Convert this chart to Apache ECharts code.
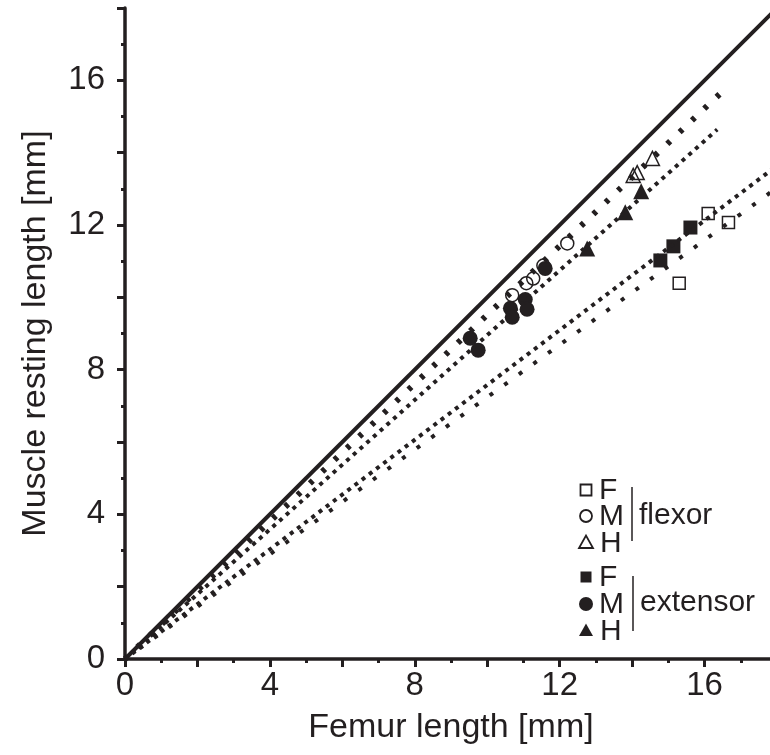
<!DOCTYPE html>
<html>
<head>
<meta charset="utf-8">
<script src="https://cdn.jsdelivr.net/npm/echarts/dist/echarts.min.js"></script>
<style>
  html, body { margin: 0; padding: 0; background: #fff; }
  #chart { width: 770px; height: 755px; }
</style>
</head>
<body>
<div id="chart"></div>
<script>
// measured points [femur length, muscle resting length] in mm
var flexorF = [[15.30, 10.39], [16.10, 12.32], [16.66, 12.07]]
var flexorM = [[10.69, 10.06], [11.08, 10.39], [11.27, 10.52], [11.55, 10.88], [12.21, 11.49]]
var flexorH = [[14.03, 13.37], [14.14, 13.45], [14.56, 13.84]]
var extensorF = [[14.78, 11.02], [15.14, 11.41], [15.61, 11.93]]
var extensorM = [[9.53, 8.87], [9.75, 8.54], [10.64, 9.70], [10.69, 9.45], [11.05, 9.94], [11.10, 9.67], [11.60, 10.80]]
var extensorH = [[12.76, 11.35], [13.81, 12.35], [14.25, 12.93]]

// fit lines through the origin
var identityLine = [[0, 0], [18, 18]]
var flexorMHFit = [[0, 0], [16.49, 15.69]]
var extensorMHFit = [[0, 0], [16.35, 14.64]]
var extensorFFit = [[0, 0], [18, 13.64]]
var flexorFFit = [[0, 0], [18, 13.03]]

var tickLabels = [0, 4, 8, 12, 16]

var ink = '#231f20'
var font = "'Liberation Sans', Arial, Helvetica, sans-serif"

var axisCommon = function (name, nameGap, labelMargin) {
    return {
        type: 'value',
        min: 0,
        max: 18,
        interval: 2,
        name: name,
        nameLocation: 'middle',
        nameGap: nameGap,
        nameTextStyle: { fontSize: 34, color: ink, fontFamily: font },
        axisLine: { show: true, onZero: false, lineStyle: { color: ink, width: 3.5 } },
        axisTick: { show: true, inside: false, length: 8, lineStyle: { color: ink, width: 3 } },
        minorTick: { show: true, splitNumber: 2, length: 4, lineStyle: { color: ink, width: 3 } },
        splitLine: { show: false },
        minorSplitLine: { show: false },
        axisLabel: {
            margin: labelMargin,
            fontSize: 33,
            color: ink,
            fontFamily: font,
            formatter: function (v) { return tickLabels.indexOf(v) >= 0 ? String(v) : '' }
        }
    }
}

var scatter = function (data, symbol, size, filled) {
    return {
        type: 'scatter',
        data: data,
        symbol: symbol,
        symbolSize: size,
        z: 3,
        itemStyle: filled
            ? { color: ink, borderWidth: 0, opacity: 1 }
            : { color: 'rgba(0,0,0,0)', borderColor: ink, borderWidth: 1.5, opacity: 1 }
    }
}

var fit = function (data, width, dash) {
    return {
        type: 'line',
        data: data,
        symbol: 'none',
        showSymbol: false,
        silent: true,
        z: 4,
        lineStyle: { color: ink, width: width, type: dash, cap: 'butt', opacity: 1 }
    }
}

// hand-made legend, like the one in the figure
var legendItem = function (shape, cx, cy, filled) {
    var style = filled ? { fill: ink } : { fill: 'none', stroke: ink, lineWidth: 1.8 }
    if (shape === 'rect') return { type: 'rect', shape: { x: cx - 5.5, y: cy - 5.5, width: 11, height: 11 }, style: style }
    if (shape === 'circle') return { type: 'circle', shape: { cx: cx, cy: cy, r: filled ? 7 : 6 }, style: style }
    return { type: 'polygon', shape: { points: [[cx - 7, cy + 6], [cx + 7, cy + 6], [cx, cy - 6.5]] }, style: style }
}
var legendText = function (t, x, y) {
    return { type: 'text', x: x, y: y, style: { text: t, fill: ink, font: '30px ' + font, textVerticalAlign: 'middle' } }
}

var chart = echarts.init(document.getElementById('chart'), null, { renderer: 'canvas' })
chart.setOption({
    animation: false,
    grid: { left: 125, right: -7, top: 8, bottom: 96, containLabel: false, outerBoundsMode: 'none' },
    xAxis: axisCommon('Femur length [mm]', 52, 10),
    yAxis: axisCommon('Muscle resting length [mm]', 72, 20),
    series: [
        scatter(flexorF, 'rect', 12, false),
        scatter(flexorM, 'circle', 13, false),
        scatter(flexorH, 'triangle', 14, false),
        scatter(extensorF, 'rect', 14, true),
        scatter(extensorM, 'circle', 15, true),
        scatter(extensorH, 'triangle', 16, true),
        fit(identityLine, 4, 'solid'),
        fit(flexorMHFit, 6, [4, 13]),
        fit(extensorMHFit, 4, [4, 5]),
        fit(extensorFFit, 4, [4, 5]),
        fit(flexorFFit, 4, [4, 14])
    ],
    graphic: [
        legendItem('rect', 586, 490, false),
        legendText('F', 599, 491),
        legendItem('circle', 586, 516, false),
        legendText('M', 599, 517),
        legendItem('triangle', 586, 542, false),
        legendText('H', 600, 544),
        { type: 'line', shape: { x1: 632, y1: 487, x2: 632, y2: 541 }, style: { stroke: ink, lineWidth: 1.5 } },
        legendText('flexor', 639, 516),
        legendItem('rect', 586, 577, true),
        legendText('F', 599, 578),
        legendItem('circle', 586, 604, true),
        legendText('M', 599, 605),
        legendItem('triangle', 586, 630, true),
        legendText('H', 600, 632),
        { type: 'line', shape: { x1: 633, y1: 576, x2: 633, y2: 631 }, style: { stroke: ink, lineWidth: 1.5 } },
        legendText('extensor', 640, 603)
    ]
})
</script>
</body>
</html>
